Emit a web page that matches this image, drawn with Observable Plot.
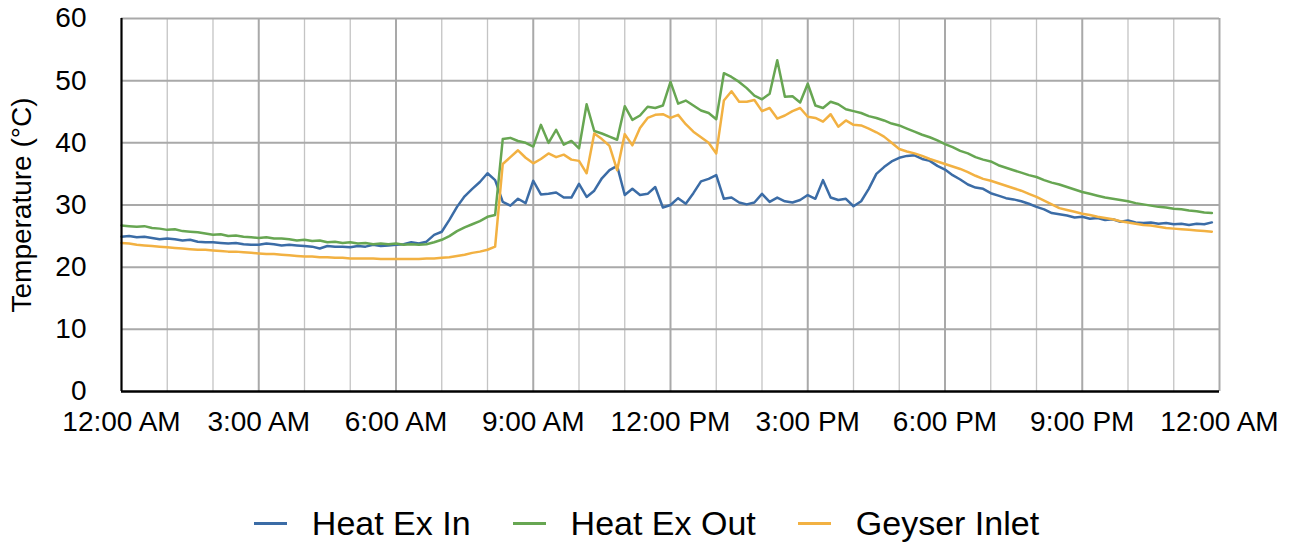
<!DOCTYPE html>
<html>
<head>
<meta charset="utf-8">
<script src="https://cdn.jsdelivr.net/npm/d3@7"></script>
<script src="https://cdn.jsdelivr.net/npm/@observablehq/plot@0.6"></script>
<style>
  html, body { margin: 0; padding: 0; background: #fff; overflow: hidden; }
  body { font-family: "Liberation Sans", Arial, Helvetica, sans-serif; width: 1293px; height: 543px; }
  #legend { height: 83px; box-sizing: border-box; padding-top: 43px; display: flex; justify-content: center; align-items: center; }
  .item { display: flex; align-items: center; height: 40px; margin: 0 21px; }
  .sw { width: 33px; height: 3px; margin-right: 25px; }
  .lab { font-size: 34px; line-height: 40px; color: #000; }
</style>
</head>
<body>
<div id="chart"></div>
<div id="legend"></div>
<script>
const seriesNames = ["Heat Ex In", "Heat Ex Out", "Geyser Inlet"];
const seriesColors = ["#3b6ca6", "#67a652", "#f2b142"];
const stepMinutes = 10;

const heatExIn = [
  24.9,25.0,24.8,24.9,24.7,24.5,24.6,24.5,24.3,24.4,24.1,24.0,
  24.0,23.9,23.8,23.9,23.7,23.6,23.6,23.8,23.7,23.5,23.6,23.5,
  23.4,23.3,23.0,23.4,23.3,23.3,23.2,23.4,23.3,23.6,23.4,23.5,
  23.6,23.7,24.0,23.8,24.1,25.2,25.7,27.6,29.7,31.4,32.6,33.7,
  35.1,34.0,30.5,29.9,31.0,30.3,33.9,31.7,31.8,32.0,31.2,31.2,
  33.4,31.3,32.3,34.3,35.6,36.3,31.6,32.6,31.6,31.8,32.9,29.6,
  30.0,31.1,30.2,31.9,33.8,34.2,34.8,31.0,31.2,30.4,30.1,30.4,
  31.8,30.5,31.2,30.6,30.4,30.8,31.6,31.0,34.0,31.2,30.8,31.0,
  29.8,30.6,32.6,35.0,36.1,37.0,37.6,37.9,38.0,37.4,37.1,36.3,
  35.7,34.8,34.1,33.3,32.8,32.6,31.9,31.5,31.1,30.9,30.6,30.2,
  29.7,29.3,28.7,28.5,28.3,28.0,28.1,27.8,27.9,27.6,27.7,27.3,
  27.5,27.2,27.1,27.2,27.0,27.1,26.9,27.0,26.8,27.0,26.9,27.2
];
const heatExOut = [
  26.7,26.6,26.5,26.6,26.3,26.2,26.0,26.1,25.8,25.7,25.6,25.4,
  25.2,25.3,25.0,25.1,24.9,24.8,24.7,24.8,24.6,24.6,24.5,24.3,
  24.4,24.2,24.3,24.0,24.1,23.9,24.0,23.8,23.9,23.7,23.8,23.7,
  23.8,23.6,23.7,23.6,23.7,24.0,24.4,25.0,25.8,26.4,26.9,27.4,
  28.1,28.4,40.6,40.8,40.3,40.0,39.4,42.9,40.0,42.1,39.7,40.3,
  39.1,46.2,41.9,41.5,41.0,40.5,45.9,43.7,44.4,45.8,45.6,46.0,
  49.8,46.3,46.8,46.0,45.2,44.8,43.8,51.2,50.6,49.8,48.8,47.6,
  47.0,47.9,53.3,47.4,47.5,46.5,49.5,46.0,45.6,46.6,46.2,45.4,
  45.1,44.8,44.3,44.0,43.6,43.1,42.8,42.3,41.8,41.3,40.9,40.4,
  39.8,39.3,38.7,38.3,37.7,37.3,37.0,36.4,36.0,35.6,35.2,34.8,
  34.5,34.0,33.6,33.3,32.9,32.5,32.1,31.8,31.5,31.2,31.0,30.8,
  30.6,30.3,30.1,29.9,29.7,29.6,29.4,29.3,29.1,29.0,28.8,28.7
];
const geyserInlet = [
  23.9,23.8,23.6,23.5,23.4,23.3,23.2,23.1,23.0,22.9,22.8,22.8,
  22.7,22.6,22.5,22.5,22.4,22.3,22.2,22.1,22.1,22.0,21.9,21.8,
  21.7,21.7,21.6,21.6,21.5,21.5,21.4,21.4,21.4,21.4,21.3,21.3,
  21.3,21.3,21.3,21.3,21.4,21.4,21.5,21.6,21.8,22.0,22.3,22.5,
  22.8,23.3,36.6,37.7,38.8,37.6,36.7,37.4,38.3,37.7,38.1,37.3,
  37.1,35.1,41.5,40.6,39.5,35.6,41.4,39.6,42.4,44.0,44.5,44.6,
  44.0,44.5,43.0,41.8,40.9,40.0,38.3,46.8,48.3,46.6,46.6,46.9,
  45.1,45.6,43.9,44.4,45.1,45.6,44.2,44.0,43.4,44.6,42.6,43.6,
  42.9,42.8,42.3,41.7,41.0,40.0,39.0,38.6,38.3,37.9,37.4,37.0,
  36.6,36.2,35.8,35.3,34.7,34.2,33.9,33.5,33.1,32.7,32.3,31.8,
  31.3,30.7,30.1,29.5,29.2,28.9,28.6,28.4,28.1,27.9,27.7,27.4,
  27.2,27.0,26.8,26.7,26.5,26.3,26.2,26.1,26.0,25.9,25.8,25.7
];

const xTicks = [0, 3, 6, 9, 12, 15, 18, 21, 24];
const xTickLabels = ["12:00 AM", "3:00 AM", "6:00 AM", "9:00 AM", "12:00 PM", "3:00 PM", "6:00 PM", "9:00 PM", "12:00 AM"];
const yTicks = [0, 10, 20, 30, 40, 50, 60];
const hourGrid = d3.range(0, 25);
const yLabel = "Temperature (°C)";

const rows = [];
[heatExIn, heatExOut, geyserInlet].forEach((arr, s) => {
  arr.forEach((v, i) => rows.push({hour: i * stepMinutes / 60, value: v, series: seriesNames[s]}));
});

const chart = Plot.plot({
  width: 1293,
  height: 460,
  marginLeft: 121,
  marginRight: 74,
  marginTop: 18,
  marginBottom: 69,
  style: {fontFamily: "'Liberation Sans', Arial, Helvetica, sans-serif", background: "#fff", color: "#000"},
  x: {domain: [0, 24], axis: null},
  y: {domain: [0, 60], axis: null},
  color: {domain: seriesNames, range: seriesColors},
  marks: [
    Plot.ruleX(hourGrid.filter(h => h % 3 !== 0), {stroke: "#c4c4c4", strokeWidth: 1.3}),
    Plot.ruleX(xTicks.filter(h => h > 0), {stroke: "#a9a9a9", strokeWidth: 2}),
    Plot.ruleY(yTicks.filter(v => v > 0), {stroke: "#a9a9a9", strokeWidth: 2}),
    Plot.lineY(rows, {x: "hour", y: "value", z: "series", stroke: "series", strokeWidth: 2.5, strokeLinejoin: "round"}),
    Plot.ruleX([0], {stroke: "#000", strokeWidth: 2.2}),
    Plot.ruleY([0], {stroke: "#000", strokeWidth: 2.4}),
    Plot.axisX(xTicks, {tickFormat: d => xTickLabels[xTicks.indexOf(d)], tickSize: 0, tickPadding: 20, fontSize: 28, label: null}),
    Plot.axisY(yTicks, {tickSize: 0, tickPadding: 35, fontSize: 28, label: null}),
    Plot.text([yLabel], {frameAnchor: "left", dx: -99, rotate: -90, fontSize: 28, textAnchor: "middle", lineAnchor: "middle", text: d => d})
  ]
});
document.getElementById("chart").appendChild(chart);

const legend = document.getElementById("legend");
seriesNames.forEach((name, i) => {
  const item = document.createElement("div");
  item.className = "item";
  const sw = document.createElement("span");
  sw.className = "sw";
  sw.style.background = seriesColors[i];
  const lab = document.createElement("span");
  lab.className = "lab";
  lab.textContent = name;
  item.appendChild(sw);
  item.appendChild(lab);
  legend.appendChild(item);
});
</script>
</body>
</html>
